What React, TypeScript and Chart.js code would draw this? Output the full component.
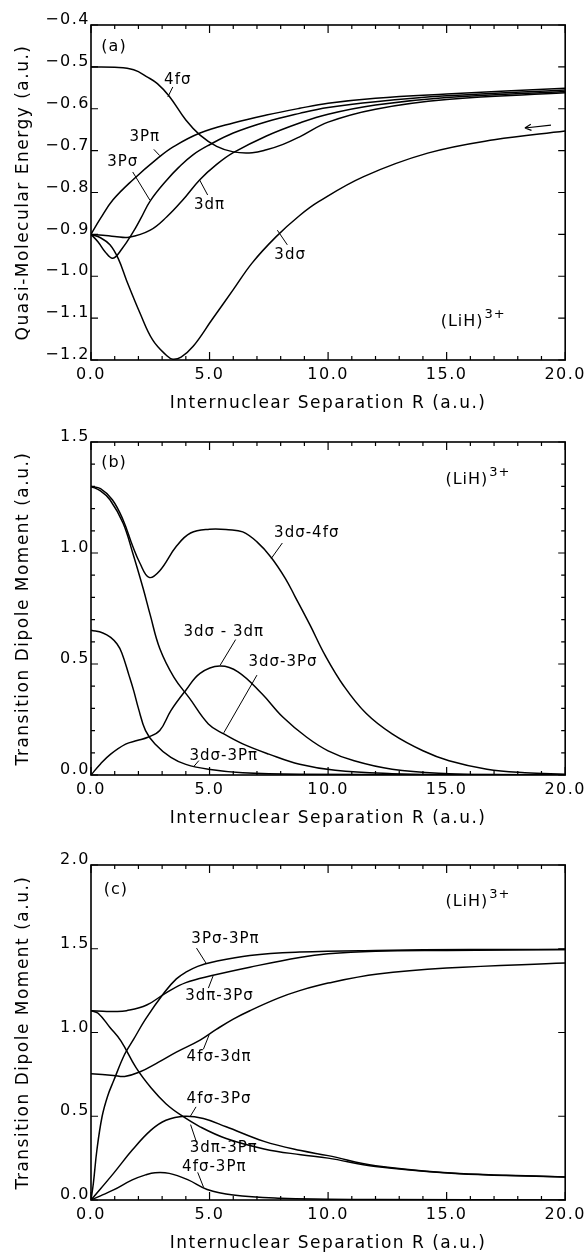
import React, { useEffect, useRef } from "react";
import { Chart, registerables } from "chart.js";
Chart.register(...registerables);

const FONT = "'DejaVu Sans', 'Noto Sans', sans-serif";

// ---------- shared x axis ----------
const xMajorTicks = [0, 5, 10, 15, 20];
const xMinorTicks = [0, 1, 2, 3, 4, 5, 6, 7, 8, 9, 10, 11, 12, 13, 14, 15, 16, 17, 18, 19, 20];
const xTitle = "Internuclear Separation R (a.u.)";

// ---------- panel (a): quasi-molecular energies ----------
const aYTicks = [-1.2, -1.1, -1.0, -0.9, -0.8, -0.7, -0.6, -0.5, -0.4];
const a4fsR = [0, 1, 1.8, 2.4, 2.8, 3.3, 4.0, 4.6, 5.3, 6.0, 6.8, 7.4, 8.1, 8.8, 10, 12, 15, 20];
const a4fsE = [-0.5, -0.501, -0.507, -0.525, -0.54, -0.57, -0.627, -0.663, -0.69, -0.703, -0.705, -0.698, -0.685, -0.667, -0.632, -0.601, -0.578, -0.562];
const a3PpR = [0, 0.4, 0.92, 1.76, 2.82, 3.5, 4.6, 6.0, 7.4, 8.8, 10, 12, 15, 20];
const a3PpE = [-0.9, -0.862, -0.818, -0.77, -0.718, -0.69, -0.658, -0.634, -0.615, -0.599, -0.587, -0.575, -0.565, -0.551];
const a3PsR = [0, 0.3, 0.6, 0.92, 1.3, 1.76, 2.1, 2.5, 3.2, 3.7, 4.3, 5.0, 6.0, 7.4, 8.8, 10, 12, 15, 20];
const a3PsE = [-0.9, -0.918, -0.942, -0.957, -0.935, -0.896, -0.862, -0.82, -0.77, -0.74, -0.71, -0.686, -0.658, -0.631, -0.611, -0.597, -0.583, -0.569, -0.555];
const a3dpR = [0, 0.5, 1.0, 1.6, 2.5, 3.2, 3.87, 4.58, 5.3, 6.0, 7.4, 8.8, 10, 12, 15, 20];
const a3dpE = [-0.9, -0.902, -0.905, -0.907, -0.89, -0.858, -0.818, -0.77, -0.733, -0.705, -0.665, -0.634, -0.613, -0.591, -0.573, -0.559];
const a3dsR = [0, 0.4, 0.8, 1.15, 1.5, 2.06, 2.6, 3.2, 3.45, 3.8, 4.3, 5.1, 6.0, 6.8, 7.8, 8.8, 9.6, 11.5, 14.2, 17, 20];
const a3dsE = [-0.9, -0.908, -0.925, -0.958, -1.01, -1.087, -1.152, -1.19, -1.198, -1.193, -1.168, -1.104, -1.032, -0.968, -0.906, -0.855, -0.822, -0.762, -0.706, -0.674, -0.653];

// ---------- panel (b): transition dipole moments ----------
const bYMajor = [0, 0.5, 1.0, 1.5];
const bYMinor = [0, 0.1, 0.2, 0.3, 0.4, 0.5, 0.6, 0.7, 0.8, 0.9, 1.0, 1.1, 1.2, 1.3, 1.4, 1.5];
const b4fsR = [0, 0.4, 0.9, 1.35, 1.76, 2.06, 2.45, 2.9, 3.6, 4.2, 5.0, 5.8, 6.4, 7.0, 7.6, 8.2, 8.6, 9.24, 9.87, 10.67, 11.6, 12.7, 14, 15.1, 16.7, 18.3, 20];
const b4fsV = [1.3, 1.29, 1.24, 1.15, 1.03, 0.955, 0.89, 0.92, 1.03, 1.09, 1.107, 1.105, 1.095, 1.05, 0.98, 0.885, 0.805, 0.675, 0.54, 0.4, 0.278, 0.185, 0.109, 0.064, 0.026, 0.01, 0.003];
const b3dpR = [0, 0.4, 0.83, 1.46, 1.94, 2.4, 2.9, 3.37, 4.0, 4.6, 5.43, 6.2, 7.2, 8.1, 9.1, 10, 11.1, 12.7, 15.1, 17, 20];
const b3dpV = [0, 0.05, 0.094, 0.139, 0.155, 0.17, 0.2, 0.29, 0.382, 0.458, 0.491, 0.465, 0.367, 0.26, 0.17, 0.109, 0.064, 0.026, 0.006, 0.002, 0];
const b3PsR = [0, 0.4, 0.8, 1.35, 1.76, 2.2, 2.5, 2.9, 3.5, 4.16, 4.95, 5.6, 6.4, 7.5, 8.8, 10.3, 12.7, 15, 20];
const b3PsV = [1.3, 1.28, 1.24, 1.135, 1.0, 0.84, 0.72, 0.57, 0.44, 0.345, 0.23, 0.185, 0.14, 0.094, 0.048, 0.021, 0.006, 0.002, 0];
const b3PpR = [0, 0.5, 0.83, 1.1, 1.3, 1.6, 1.8, 2.0, 2.3, 2.7, 3.37, 4.0, 4.95, 6.4, 8.8, 20];
const b3PpV = [0.652, 0.64, 0.62, 0.59, 0.55, 0.45, 0.38, 0.3, 0.2, 0.14, 0.079, 0.048, 0.026, 0.01, 0.003, 0];

// ---------- panel (c): transition dipole moments ----------
const cYMajor = [0, 0.5, 1.0, 1.5, 2.0];
const cPsPpR = [0, 0.1, 0.25, 0.47, 0.7, 0.95, 1.42, 1.8, 2.3, 3.1, 3.6, 4.0, 4.5, 5.1, 6.7, 8.8, 12, 16, 20];
const cPsPpV = [0, 0.1, 0.3, 0.5, 0.62, 0.71, 0.87, 0.96, 1.08, 1.24, 1.32, 1.36, 1.395, 1.42, 1.46, 1.48, 1.49, 1.495, 1.495];
const cdpPsR = [0, 0.5, 1, 1.5, 2.35, 3.2, 4, 5.1, 6.7, 8.8, 10, 12, 15, 20];
const cdpPsV = [1.13, 1.127, 1.125, 1.13, 1.164, 1.24, 1.298, 1.34, 1.39, 1.448, 1.47, 1.485, 1.49, 1.495];
const cdpPpR = [0, 0.3, 0.8, 1.26, 1.9, 2.53, 3.16, 3.8, 4.6, 5.7, 7.3, 8.85, 10, 12, 15.2, 17.5, 20];
const cdpPpV = [1.13, 1.115, 1.03, 0.95, 0.79, 0.67, 0.575, 0.506, 0.437, 0.367, 0.305, 0.27, 0.25, 0.2, 0.159, 0.147, 0.137];
const cfsPsR = [0, 0.95, 1.74, 2.53, 3.16, 3.95, 4.74, 5.7, 7.3, 8.85, 10, 12, 15.2, 17.5, 20];
const cfsPsV = [0, 0.159, 0.298, 0.417, 0.476, 0.5, 0.486, 0.437, 0.35, 0.295, 0.265, 0.205, 0.161, 0.148, 0.138];
const cfsdpR = [0, 0.95, 1.42, 2.05, 2.85, 3.6, 4.6, 5.3, 6.0, 6.7, 7.9, 8.8, 10, 12.1, 15, 20];
const cfsdpV = [0.754, 0.744, 0.738, 0.764, 0.823, 0.883, 0.955, 1.02, 1.08, 1.13, 1.205, 1.25, 1.295, 1.349, 1.385, 1.415];
const cfsPpR = [0, 0.4, 0.95, 1.74, 2.3, 2.7, 3.3, 4.1, 4.9, 6, 8, 10, 12, 20];
const cfsPpV = [0, 0.025, 0.06, 0.12, 0.15, 0.163, 0.159, 0.12, 0.063, 0.03, 0.01, 0.005, 0.003, 0];

type Ann = { text: string; R: number; v: number; sup?: string; leader?: number[]; size?: number };

const aAnn: Ann[] = [
  { text: "(a)", R: 0.97, v: -0.4525, size: 16 },
  { text: "4fσ", R: 3.66, v: -0.531, leader: [3.24, -0.572, 3.45, -0.548] },
  { text: "3Pπ", R: 2.27, v: -0.667, leader: [2.65, -0.697, 2.9, -0.712] },
  { text: "3Pσ", R: 1.34, v: -0.727, leader: [1.76, -0.751, 2.48, -0.818] },
  { text: "3dπ", R: 5.0, v: -0.83, leader: [4.58, -0.77, 4.92, -0.806] },
  { text: "3dσ", R: 8.4, v: -0.949, leader: [7.86, -0.89, 8.28, -0.925] },
  { text: "(LiH)", sup: "3+", R: 16.1, v: -1.109, size: 16 },
];
const bAnn: Ann[] = [
  { text: "(b)", R: 0.97, v: 1.405, size: 16 },
  { text: "(LiH)", sup: "3+", R: 16.3, v: 1.33, size: 16 },
  { text: "3dσ-4fσ", R: 9.1, v: 1.09, leader: [8.07, 1.045, 7.6, 0.975] },
  { text: "3dσ - 3dπ", R: 5.6, v: 0.645, leader: [6.1, 0.61, 5.45, 0.495] },
  { text: "3dσ-3Pσ", R: 8.1, v: 0.51, leader: [7.0, 0.45, 5.6, 0.19] },
  { text: "3dσ-3Pπ", R: 5.6, v: 0.085, leader: [4.35, 0.04, 4.55, 0.065] },
];
const cAnn: Ann[] = [
  { text: "(c)", R: 1.05, v: 1.85, size: 16 },
  { text: "(LiH)", sup: "3+", R: 16.3, v: 1.78, size: 16 },
  { text: "3Pσ-3Pπ", R: 5.67, v: 1.558, leader: [4.45, 1.504, 4.87, 1.41] },
  { text: "3dπ-3Pσ", R: 5.42, v: 1.218, leader: [5.15, 1.338, 4.95, 1.265] },
  { text: "4fσ-3dπ", R: 5.4, v: 0.855, leader: [4.98, 0.985, 4.74, 0.9] },
  { text: "4fσ-3Pσ", R: 5.4, v: 0.6, leader: [4.43, 0.556, 4.19, 0.5] },
  { text: "3dπ-3Pπ", R: 5.6, v: 0.31, leader: [4.45, 0.345, 4.2, 0.45] },
  { text: "4fσ-3Pπ", R: 5.2, v: 0.195, leader: [4.5, 0.165, 4.75, 0.075] },
];

const aArrow = [19.4, -0.639, 18.3, -0.646];

type PanelSpec = {
  top: number; height: number; areaTop: number; areaBottom: number;
  yMin: number; yMax: number; yMajor: number[]; yMinor: number[];
  yTitle: string; fmt: (v: number) => string;
  series: [number[], number[]][]; ann: Ann[]; arrow?: number[];
};

const fmtA = (v: number) => v.toFixed(1).replace("-", "\u2212");
const fmtB = (v: number) => v.toFixed(1);

const panels: PanelSpec[] = [
  {
    top: 0, height: 420, areaTop: 25, areaBottom: 360,
    yMin: -1.2, yMax: -0.4, yMajor: aYTicks, yMinor: aYTicks,
    yTitle: "Quasi-Molecular Energy (a.u.)", fmt: fmtA,
    series: [[a4fsR, a4fsE], [a3PpR, a3PpE], [a3PsR, a3PsE], [a3dpR, a3dpE], [a3dsR, a3dsE]],
    ann: aAnn, arrow: aArrow,
  },
  {
    top: 417, height: 420, areaTop: 25, areaBottom: 358,
    yMin: 0, yMax: 1.5, yMajor: bYMajor, yMinor: bYMinor,
    yTitle: "Transition Dipole Moment (a.u.)", fmt: fmtB,
    series: [[b4fsR, b4fsV], [b3dpR, b3dpV], [b3PsR, b3PsV], [b3PpR, b3PpV]],
    ann: bAnn,
  },
  {
    top: 840, height: 417, areaTop: 25, areaBottom: 360,
    yMin: 0, yMax: 2.0, yMajor: cYMajor, yMinor: cYMajor,
    yTitle: "Transition Dipole Moment (a.u.)", fmt: fmtB,
    series: [[cPsPpR, cPsPpV], [cdpPsR, cdpPsV], [cdpPpR, cdpPpV], [cfsPsR, cfsPsV], [cfsdpR, cfsdpV], [cfsPpR, cfsPpV]],
    ann: cAnn,
  },
];

const near = (arr: number[], t: number) => arr.some((a) => Math.abs(a - t) < 1e-6);

function Panel({ spec }: { spec: PanelSpec }) {
  const ref = useRef<HTMLCanvasElement | null>(null);
  useEffect(() => {
    if (!ref.current) return;
    const titleBottomPad = spec.height - (spec.areaBottom + 44) - 10.2;
    const decor = {
      id: "decor",
      beforeDraw(chart: any) {
        (chart.ctx as any).letterSpacing = "1.5px";
      },
      afterDraw(chart: any) {
        const { ctx, chartArea: ca, scales } = chart;
        const x = scales.x, y = scales.y;
        ctx.save();
        ctx.strokeStyle = "#000";
        ctx.fillStyle = "#000";
        ctx.lineWidth = 1.6;
        ctx.strokeRect(ca.left, ca.top, ca.right - ca.left, ca.bottom - ca.top);
        ctx.lineWidth = 1.2;
        ctx.beginPath();
        for (const t of xMinorTicks) {
          const px = x.getPixelForValue(t);
          const L = near(xMajorTicks, t) ? 8 : 4;
          ctx.moveTo(px, ca.bottom); ctx.lineTo(px, ca.bottom - L);
          ctx.moveTo(px, ca.top); ctx.lineTo(px, ca.top + L);
        }
        for (const t of spec.yMinor) {
          const py = y.getPixelForValue(t);
          const L = near(spec.yMajor, t) ? 7 : 4;
          ctx.moveTo(ca.left, py); ctx.lineTo(ca.left + L, py);
          ctx.moveTo(ca.right, py); ctx.lineTo(ca.right - L, py);
        }
        ctx.stroke();
        // annotations
        ctx.lineWidth = 1;
        for (const a of spec.ann) {
          if (a.leader) {
            ctx.beginPath();
            ctx.moveTo(x.getPixelForValue(a.leader[0]), y.getPixelForValue(a.leader[1]));
            ctx.lineTo(x.getPixelForValue(a.leader[2]), y.getPixelForValue(a.leader[3]));
            ctx.stroke();
          }
          const size = a.size || 15;
          ctx.font = `${size}px ${FONT}`;
          (ctx as any).letterSpacing = "1px";
          ctx.textBaseline = "middle";
          const px = x.getPixelForValue(a.R), py = y.getPixelForValue(a.v);
          if (a.sup) {
            const w1 = ctx.measureText(a.text).width;
            ctx.font = `${Math.round(size * 0.8)}px ${FONT}`;
            const w2 = ctx.measureText(a.sup).width;
            const x0 = px - (w1 + w2) / 2;
            ctx.textAlign = "left";
            ctx.fillText(a.sup, x0 + w1 + 1, py - size * 0.45);
            ctx.font = `${size}px ${FONT}`;
            ctx.fillText(a.text, x0, py);
          } else {
            ctx.textAlign = "center";
            ctx.fillText(a.text, px, py);
          }
        }
        if (spec.arrow) {
          const [r1, v1, r2, v2] = spec.arrow;
          const x1 = x.getPixelForValue(r1), y1 = y.getPixelForValue(v1);
          const x2 = x.getPixelForValue(r2), y2 = y.getPixelForValue(v2);
          const ang = Math.atan2(y2 - y1, x2 - x1);
          ctx.lineWidth = 1.2;
          ctx.beginPath();
          ctx.moveTo(x1, y1); ctx.lineTo(x2, y2);
          ctx.moveTo(x2, y2); ctx.lineTo(x2 - 7 * Math.cos(ang - 0.45), y2 - 7 * Math.sin(ang - 0.45));
          ctx.moveTo(x2, y2); ctx.lineTo(x2 - 7 * Math.cos(ang + 0.45), y2 - 7 * Math.sin(ang + 0.45));
          ctx.stroke();
        }
        ctx.restore();
        (ctx as any).letterSpacing = "0px";
      },
    };
    const chart = new Chart(ref.current, {
      type: "line",
      data: {
        datasets: spec.series.map(([R, V], i) => ({
          label: "s" + i,
          data: R.map((r, k) => ({ x: r, y: V[k] })),
          borderColor: "#000",
          borderWidth: 1.5,
          pointRadius: 0,
          fill: false,
          tension: 0.4,
        })),
      },
      options: {
        responsive: false,
        animation: false,
        devicePixelRatio: 1,
        layout: { padding: { top: spec.areaTop, right: 21, left: 0, bottom: 0 } },
        plugins: { legend: { display: false }, tooltip: { enabled: false } },
        scales: {
          x: {
            type: "linear", min: 0, max: 20,
            afterBuildTicks: (s: any) => { s.ticks = xMajorTicks.map((v) => ({ value: v })); },
            afterFit: (s: any) => { s.height = spec.height - spec.areaBottom; },
            grid: { display: false, drawTicks: false },
            border: { display: false },
            ticks: { color: "#000", font: { family: FONT, size: 16 }, padding: 5, maxRotation: 0, autoSkip: false, callback: (v: any) => Number(v).toFixed(1) },
            title: { display: true, text: xTitle, color: "#000", font: { family: FONT, size: 17 }, padding: { top: 0, bottom: titleBottomPad } },
          },
          y: {
            type: "linear", min: spec.yMin, max: spec.yMax,
            afterBuildTicks: (s: any) => { s.ticks = spec.yMajor.map((v) => ({ value: v })); },
            afterFit: (s: any) => { s.width = 91; },
            grid: { display: false, drawTicks: false },
            border: { display: false },
            ticks: { color: "#000", font: { family: FONT, size: 16 }, padding: 1, labelOffset: -5, autoSkip: false, callback: (v: any) => spec.fmt(Number(v)) },
            title: { display: true, text: spec.yTitle, color: "#000", font: { family: FONT, size: 17 }, padding: { top: 13, bottom: 0 } },
          },
        },
      },
      plugins: [decor],
    } as any);
    return () => chart.destroy();
  }, [spec]);
  return (
    <canvas
      ref={ref}
      width={588}
      height={spec.height}
      style={{ position: "absolute", left: 0, top: spec.top, width: 588, height: spec.height, display: "block" }}
    />
  );
}

export default function App() {
  return (
    <div style={{ position: "absolute", left: 0, top: 0, width: 588, height: 1257, background: "#fff" }}>
      {panels.map((p, i) => <Panel key={i} spec={p} />)}
    </div>
  );
}
